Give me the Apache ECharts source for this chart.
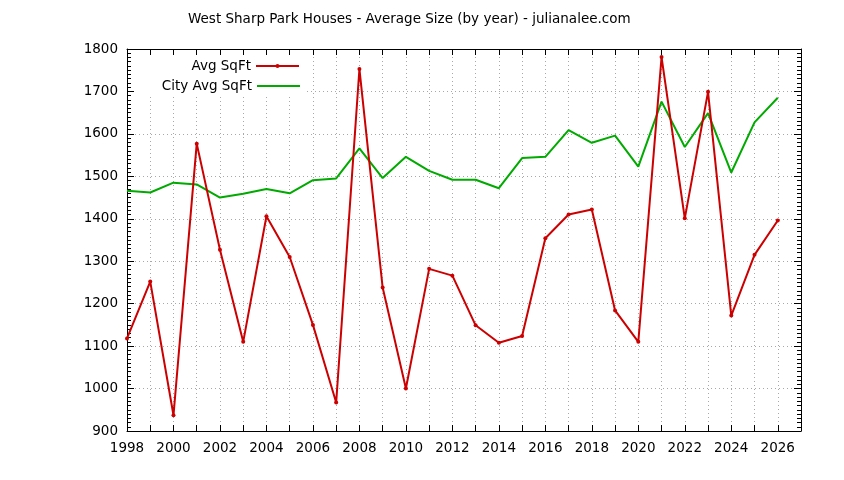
<!DOCTYPE html>
<html>
<head>
<meta charset="utf-8">
<script src="https://cdn.jsdelivr.net/npm/echarts@6/dist/echarts.min.js"></script>
<style>
  html, body { margin: 0; padding: 0; background: #fff; }
  #main { width: 844px; height: 480px; }
</style>
</head>
<body>
<div id="main"></div>
<script>
// years on the x axis
var years = [1998, 1999, 2000, 2001, 2002, 2003, 2004, 2005, 2006, 2007,
             2008, 2009, 2010, 2011, 2012, 2013, 2014, 2015, 2016, 2017,
             2018, 2019, 2020, 2021, 2022, 2023, 2024, 2025, 2026];

var avgSqft = [1118, 1252, 937, 1577, 1327, 1110, 1406, 1310, 1150, 967,
               1753, 1238, 1000, 1282, 1266, 1149, 1108, 1124, 1354, 1410,
               1422, 1184, 1110, 1781, 1401, 1699, 1172, 1315, 1396];

var cityAvgSqft = [1466, 1462, 1485, 1481, 1450, 1459, 1470, 1460, 1491, 1495,
                   1566, 1496, 1546, 1513, 1492, 1492, 1472, 1543, 1546, 1609,
                   1579, 1596, 1523, 1676, 1569, 1649, 1509, 1627, 1685];

var yTicks = [900, 1000, 1100, 1200, 1300, 1400, 1500, 1600, 1700, 1800];

var font = 'DejaVu Sans';

function pairs(vals) {
    return years.map(function (y, i) { return [y, vals[i]]; });
}

var chart = echarts.init(document.getElementById('main'));

var gridLine = { show: true, lineStyle: { color: '#a8a8a8', type: [1, 3], width: 1 } };

var option = {
    animation: false,
    backgroundColor: '#fff',
    title: {
        text: 'West Sharp Park Houses - Average Size (by year) - julianalee.com',
        left: 188,
        top: 12,
        padding: 0,
        textStyle: { fontFamily: font, fontSize: 13.5, fontWeight: 'normal', color: '#000' }
    },
    grid: { left: 127, right: 43, top: 49, bottom: 49 },
    legend: [
        {
            data: ['Avg SqFt'],
            right: 544,
            top: 59,
            align: 'right',
            itemWidth: 43,
            itemHeight: 5,
            padding: 0,
            textStyle: { fontFamily: font, fontSize: 13.5, color: '#000' }
        },
        {
            data: [{ name: 'City Avg SqFt', icon: 'rect' }],
            right: 544,
            top: 79,
            align: 'right',
            itemWidth: 43,
            itemHeight: 2,
            padding: 0,
            textStyle: { fontFamily: font, fontSize: 13.5, color: '#000' }
        }
    ],
    graphic: [{
        type: 'rect',
        z: 1,
        shape: { x: 134, y: 56, width: 170, height: 41 },
        style: { fill: '#fff' }
    }],
    xAxis: [
        {
            type: 'value',
            min: 1998,
            max: 2027,
            interval: 1,
            axisLine: { lineStyle: { color: '#000', width: 1 } },
            axisTick: { inside: true, length: 6, lineStyle: { color: '#000' } },
            axisLabel: {
                fontFamily: font, fontSize: 13.5, color: '#000', margin: 10,
                formatter: function (v) { return (v % 2 === 0 && v < 2027) ? String(v) : ''; }
            },
            splitLine: gridLine
        },
        {
            type: 'value',
            position: 'top',
            min: 1998,
            max: 2027,
            interval: 1,
            axisLine: { lineStyle: { color: '#000', width: 1 } },
            axisTick: { inside: true, length: 6, lineStyle: { color: '#000' } },
            axisLabel: { show: false },
            splitLine: { show: false }
        }
    ],
    yAxis: [
        {
            type: 'value',
            min: yTicks[0],
            max: yTicks[yTicks.length - 1],
            interval: 100,
            axisLine: { show: true, lineStyle: { color: '#000', width: 1 } },
            axisTick: { show: true, inside: true, length: 7, lineStyle: { color: '#000' } },
            minorTick: { show: true, splitNumber: 10, length: 4, lineStyle: { color: '#000' } },
            axisLabel: {
                fontFamily: font, fontSize: 13.5, color: '#000', margin: 9,
                formatter: function (v) { return String(v); }
            },
            splitLine: gridLine
        },
        {
            type: 'value',
            position: 'right',
            min: yTicks[0],
            max: yTicks[yTicks.length - 1],
            interval: 100,
            axisLine: { show: true, lineStyle: { color: '#000', width: 1 } },
            axisTick: { show: true, inside: true, length: 7, lineStyle: { color: '#000' } },
            minorTick: { show: true, splitNumber: 10, length: 4, lineStyle: { color: '#000' } },
            axisLabel: { show: false },
            splitLine: { show: false }
        }
    ],
    series: [
        {
            name: 'Avg SqFt',
            type: 'line',
            data: pairs(avgSqft),
            symbol: 'circle',
            symbolSize: 4,
            itemStyle: { color: '#cc0000' },
            lineStyle: { color: '#cc0000', width: 2 },
            z: 3
        },
        {
            name: 'City Avg SqFt',
            type: 'line',
            data: pairs(cityAvgSqft),
            symbol: 'none',
            itemStyle: { color: '#00aa00' },
            lineStyle: { color: '#00aa00', width: 2 },
            z: 2
        }
    ]
};

chart.setOption(option);
</script>
</body>
</html>
